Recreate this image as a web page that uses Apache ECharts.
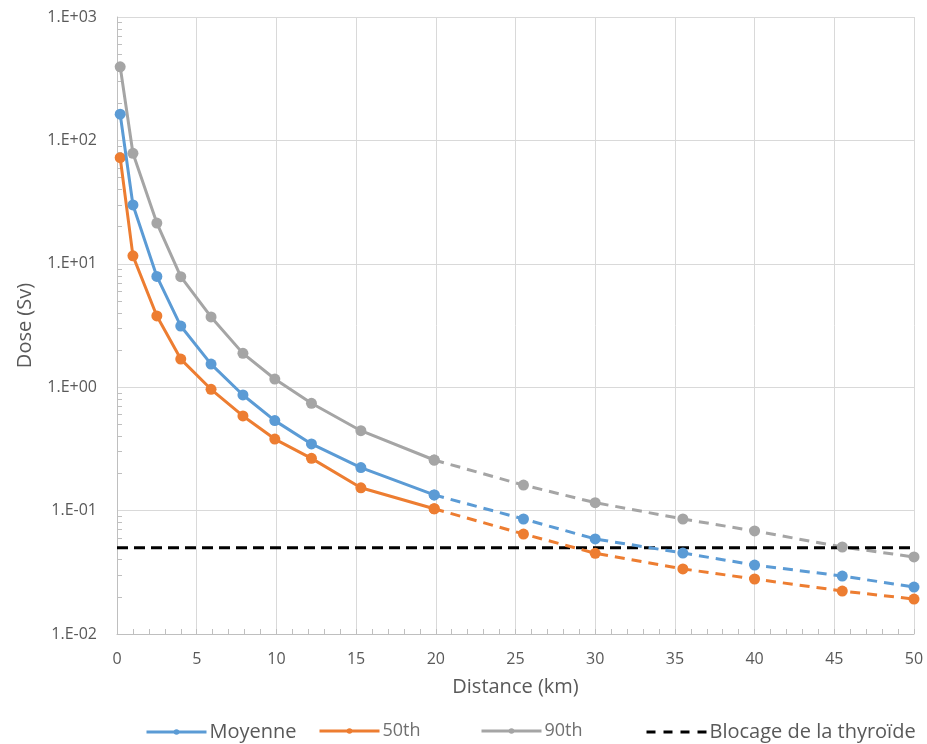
<!DOCTYPE html>
<html>
<head>
<meta charset="utf-8">
<script src="https://cdn.jsdelivr.net/npm/echarts@6/dist/echarts.min.js"></script>
<style>
html,body{margin:0;padding:0;background:#fff;}
#chart{width:927px;height:744px;}
</style>
</head>
<body>
<div id="chart"></div>
<script>
// Distances (km)
const distances = [0.2, 1, 2.5, 4, 5.9, 7.9, 9.9, 12.2, 15.3, 19.9, 25.5, 30, 35.5, 40, 45.5, 50];
// Dose (Sv)
const moyenne = [163, 30, 7.9, 3.13, 1.54, 0.865, 0.536, 0.347, 0.223, 0.134, 0.0855, 0.0589, 0.0453, 0.0362, 0.0295, 0.024];
const p50 = [72.4, 11.6, 3.78, 1.69, 0.962, 0.585, 0.38, 0.265, 0.153, 0.1035, 0.0646, 0.0451, 0.0337, 0.0279, 0.0223, 0.0192];
const p90 = [395, 78.6, 21.4, 7.86, 3.71, 1.88, 1.165, 0.741, 0.444, 0.257, 0.161, 0.116, 0.0855, 0.0684, 0.0507, 0.0421];
const blocage = 0.05;
const blocageRange = [0, 50];
const splitIndex = 9; // solid up to 20 km, dashed afterwards
const seriesNames = ['Moyenne', '50th', '90th'];
const blocageName = 'Blocage de la thyroïde';
const xTicks = [0, 50, 5];

const colors = ['#5B9BD5', '#ED7D31', '#A5A5A5'];
const textColor = '#595959';
const gridColor = '#D9D9D9';
const font = 'Open Sans';

function pts(vals, from, to) {
  const out = [];
  for (let i = from; i < to; i++) out.push([distances[i], vals[i]]);
  return out;
}

// log minor tick positions
const minorVals = [];
for (let e = -2; e < 3; e++) {
  for (let k = 2; k <= 9; k++) minorVals.push(+(k * Math.pow(10, e)).toPrecision(3));
}

function fmtExp(v) {
  const e = Math.round(Math.log10(v));
  const s = e < 0 ? '-' : '+';
  const a = Math.abs(e);
  return '1.E' + s + (a < 10 ? '0' + a : a);
}

const allVals = [moyenne, p50, p90];
const series = [];
allVals.forEach((vals, i) => {
  series.push({
    name: seriesNames[i],
    type: 'line',
    data: pts(vals, 0, splitIndex + 1),
    symbol: 'circle',
    symbolSize: 11,
    itemStyle: { color: colors[i] },
    lineStyle: { color: colors[i], width: 3 },
    z: 3 - i,
    animation: false
  });
  series.push({
    name: seriesNames[i] + ' (suite)',
    type: 'line',
    data: pts(vals, splitIndex, distances.length),
    symbol: 'circle',
    symbolSize: 11,
    itemStyle: { color: colors[i] },
    lineStyle: { color: colors[i], width: 3, type: [10, 7] },
    z: 3 - i,
    animation: false
  });
});
series.push({
  name: blocageName,
  type: 'line',
  data: [[blocageRange[0], blocage], [blocageRange[1], blocage]],
  symbol: 'none',
  itemStyle: { color: '#000000' },
  lineStyle: { color: '#000000', width: 3, type: [11, 6] },
  z: 1,
  animation: false
});

function legendItem(name, left, size, color, extra) {
  return Object.assign({
    data: [name],
    left: left,
    top: 722,
    padding: 0,
    itemWidth: 60,
    itemHeight: 7,
    selectedMode: false,
    lineStyle: { width: 3 },
    textStyle: { color: color, fontSize: size, fontFamily: font, padding: [0, 0, 0, -2] }
  }, extra || {});
}

const chart = echarts.init(document.getElementById('chart'), null, { renderer: 'canvas' });
chart.setOption({
  backgroundColor: '#ffffff',
  animation: false,
  grid: { left: 117, right: 13, top: 17, bottom: 110, containLabel: false },
  legend: [
    legendItem('Moyenne', 145, 20, textColor),
    legendItem('50th', 318, 18, '#707070'),
    legendItem('90th', 480, 18, '#707070'),
    legendItem(blocageName, 645, 20, textColor, {
      itemHeight: 14,
      itemStyle: { opacity: 0 },
      lineStyle: { width: 3, type: [9, 8] }
    })
  ],
  xAxis: {
    type: 'value',
    min: xTicks[0],
    max: xTicks[1],
    interval: xTicks[2],
    name: 'Distance (km)',
    nameLocation: 'middle',
    nameGap: 43,
    nameTextStyle: { color: textColor, fontSize: 20, fontFamily: font },
    axisLine: { show: true, lineStyle: { color: '#BFBFBF', width: 1 } },
    axisTick: { show: true, inside: true, length: 5, lineStyle: { color: '#BFBFBF' } },
    minorTick: { show: true, splitNumber: 5, length: 5, lineStyle: { color: '#BFBFBF' } },
    axisLabel: { color: textColor, fontSize: 16, fontFamily: font, margin: 17 },
    splitLine: { show: true, lineStyle: { color: gridColor, width: 1 } }
  },
  yAxis: [{
    type: 'log',
    logBase: 10,
    min: 0.01,
    max: 1000,
    name: 'Dose (Sv)',
    nameLocation: 'middle',
    nameGap: 82,
    nameTextStyle: { color: textColor, fontSize: 20, fontFamily: font },
    axisLine: { show: true, lineStyle: { color: '#BFBFBF', width: 1 } },
    axisTick: { show: false },
    axisLabel: { color: textColor, fontSize: 16, fontFamily: font, margin: 20, formatter: fmtExp },
    splitLine: { show: true, lineStyle: { color: gridColor, width: 1 } }
  }, {
    type: 'log',
    logBase: 10,
    min: 0.01,
    max: 1000,
    position: 'left',
    offset: 0,
    axisLine: { show: false },
    axisLabel: { show: false },
    splitLine: { show: false },
    axisTick: { show: true, inside: true, length: 5, customValues: minorVals, lineStyle: { color: '#BFBFBF' } }
  }],
  series: series
});
</script>
</body>
</html>
